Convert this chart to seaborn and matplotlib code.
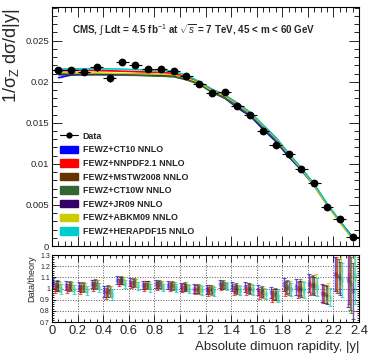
import matplotlib
matplotlib.use("Agg")
import matplotlib.pyplot as plt
from matplotlib.patches import Patch
from matplotlib.lines import Line2D
from matplotlib.ticker import MultipleLocator
import numpy as np
import pandas as pd
import seaborn as sns

sns.set_theme(style="ticks")
plt.rcParams['font.family'] = ['Liberation Sans', 'DejaVu Sans']
plt.rcParams['mathtext.fontset'] = 'custom'
plt.rcParams['mathtext.rm'] = 'Liberation Sans'
plt.rcParams['mathtext.it'] = 'Liberation Sans:italic'
plt.rcParams['mathtext.bf'] = 'Liberation Sans:bold'

# bin centres in |y|
y_centres = [0.05, 0.15, 0.25, 0.35, 0.45, 0.55, 0.65, 0.75, 0.85, 0.95, 1.05, 1.15,
             1.25, 1.35, 1.45, 1.55, 1.65, 1.75, 1.85, 1.95, 2.05, 2.15, 2.25, 2.35]

data_val = [0.02146, 0.02140, 0.02120, 0.02175, 0.02040, 0.02244, 0.02200, 0.02150,
            0.02160, 0.02130, 0.02065, 0.01976, 0.01862, 0.01874, 0.01707, 0.01601,
            0.01402, 0.01228, 0.01122, 0.00935, 0.00764, 0.00480, 0.00333, 0.00106]
data_err = [0.0003, 0.0003, 0.0004, 0.0004, 0.0004, 0.0003, 0.0003, 0.0003,
            0.0003, 0.0003, 0.0003, 0.0003, 0.0003, 0.0003, 0.0003, 0.0003,
            0.0003, 0.0003, 0.0003, 0.0002, 0.0002, 0.0002, 0.0002, 0.0001]

pdf_names = ['FEWZ+CT10 NNLO', 'FEWZ+NNPDF2.1 NNLO', 'FEWZ+MSTW2008 NNLO',
             'FEWZ+CT10W NNLO', 'FEWZ+JR09 NNLO', 'FEWZ+ABKM09 NNLO',
             'FEWZ+HERAPDF15 NNLO']
pdf_colors = ['#0000ff', '#ff0000', '#663300', '#336633', '#330066', '#cccc00', '#00cccc']

th_ct10 = [0.02050, 0.02085, 0.02090, 0.02090, 0.02090, 0.02088, 0.02085, 0.02080,
           0.02078, 0.02070, 0.02035, 0.01980, 0.01880, 0.01800, 0.01680, 0.01580,
           0.01420, 0.01270, 0.01085, 0.00920, 0.00730, 0.00500, 0.00295, 0.00098]
th_nnpdf = [0.02135, 0.02140, 0.02140, 0.02138, 0.02135, 0.02130, 0.02125, 0.02120,
            0.02115, 0.02105, 0.02060, 0.02000, 0.01910, 0.01840, 0.01740, 0.01625,
            0.01470, 0.01320, 0.01125, 0.00945, 0.00745, 0.00505, 0.00295, 0.00095]
th_mstw = [0.02100, 0.02100, 0.02100, 0.02100, 0.02098, 0.02095, 0.02092, 0.02088,
           0.02085, 0.02078, 0.02040, 0.01985, 0.01885, 0.01815, 0.01705, 0.01600,
           0.01450, 0.01295, 0.01110, 0.00935, 0.00740, 0.00505, 0.00300, 0.00100]
th_ct10w = [0.02085, 0.02088, 0.02088, 0.02088, 0.02086, 0.02083, 0.02080, 0.02075,
            0.02070, 0.02062, 0.02025, 0.01970, 0.01870, 0.01800, 0.01695, 0.01590,
            0.01440, 0.01285, 0.01100, 0.00925, 0.00735, 0.00505, 0.00300, 0.00103]
th_jr09 = [0.02095, 0.02098, 0.02098, 0.02098, 0.02097, 0.02095, 0.02093, 0.02090,
           0.02087, 0.02080, 0.02045, 0.01990, 0.01890, 0.01825, 0.01715, 0.01610,
           0.01455, 0.01300, 0.01115, 0.00940, 0.00745, 0.00510, 0.00305, 0.00108]
th_abkm = [0.02110, 0.02105, 0.02105, 0.02105, 0.02103, 0.02100, 0.02097, 0.02093,
           0.02090, 0.02083, 0.02045, 0.01990, 0.01890, 0.01825, 0.01720, 0.01610,
           0.01460, 0.01305, 0.01115, 0.00935, 0.00730, 0.00495, 0.00285, 0.00080]
th_hera = [0.02155, 0.02160, 0.02160, 0.02160, 0.02158, 0.02155, 0.02150, 0.02145,
           0.02140, 0.02128, 0.02080, 0.02005, 0.01905, 0.01840, 0.01735, 0.01625,
           0.01475, 0.01320, 0.01130, 0.00950, 0.00755, 0.00520, 0.00310, 0.00095]
theories = [th_ct10, th_nnpdf, th_mstw, th_ct10w, th_jr09, th_abkm, th_hera]

# uncertainty on the ratio (data + theory)
ratio_err = [0.045, 0.04, 0.04, 0.04, 0.05, 0.035, 0.035, 0.035, 0.035, 0.035, 0.035, 0.04,
             0.04, 0.035, 0.04, 0.045, 0.045, 0.05, 0.06, 0.07, 0.08, 0.08, 0.15, 0.25]

rows = []
for name, th in zip(pdf_names, theories):
    for x, v in zip(y_centres, th):
        rows.append({'y': x, 'xsec': v, 'pdf': name})
df = pd.DataFrame(rows)
palette = dict(zip(pdf_names, pdf_colors))

fig = plt.figure(figsize=(3.74, 3.63), dpi=100)
ax = fig.add_axes([0.139, 0.3223, 0.821, 0.6584])
axr = fig.add_axes([0.139, 0.1129, 0.821, 0.1846])

# theory bands + lines
for name, th, c in zip(pdf_names, theories, pdf_colors):
    th = np.array(th)
    ax.fill_between(y_centres, th * 0.997, th * 1.003, color=c, lw=0, alpha=0.8)
sns.lineplot(data=df, x='y', y='xsec', hue='pdf', palette=palette, ax=ax,
             linewidth=1.0, legend=False)

ax.errorbar(y_centres, data_val, xerr=0.05, yerr=data_err, fmt='o', color='black',
            ms=4.6, elinewidth=0.8, capsize=0, zorder=10)

ax.set_xlim(0, 2.4)
ax.set_ylim(0, 0.0291)
ax.set_xlabel('')
ax.set_ylabel('1/σ$_\\mathregular{Z}$ dσ/d|y|', fontsize=13, loc='top')
ax.yaxis.set_label_coords(-0.098, 0.995)
ax.yaxis.set_major_locator(MultipleLocator(0.005))
ax.yaxis.set_minor_locator(MultipleLocator(0.001))
ax.xaxis.set_major_locator(MultipleLocator(0.2))
ax.xaxis.set_minor_locator(MultipleLocator(0.05))
ax.set_yticks([0, 0.005, 0.01, 0.015, 0.02, 0.025])
ax.set_yticklabels(['0', '0.005', '0.01', '0.015', '0.02', '0.025'])
ax.tick_params(axis='both', which='both', direction='in', top=True, right=True,
               labelsize=6.8, width=0.7, pad=2)
ax.tick_params(which='major', length=7)
ax.tick_params(which='minor', length=3.5)
ax.tick_params(axis='x', labelbottom=False)

ax.text(0.064, 0.904, 'CMS, $\\int$ Ldt = 4.5 fb$^{-1}$ at $\\sqrt{s}$ = 7 TeV, 45 < m < 60 GeV',
        transform=ax.transAxes, fontsize=7.1, fontweight='bold', va='center')

handles = [Line2D([], [], color='black', marker='o', ms=3.5, lw=0.8)]
handles += [Patch(facecolor=c, edgecolor=c) for c in pdf_colors]
ax.legend(handles, ['Data'] + pdf_names, loc='upper left', bbox_to_anchor=(0.025, 0.478),
          frameon=False, prop={'size': 6.4, 'weight': 'bold'}, handlelength=2.1,
          handleheight=0.9, handletextpad=0.5, labelspacing=0.52, borderpad=0,
          borderaxespad=0)

# ratio panel
offsets = [-0.040, -0.030, -0.020, -0.010, 0.000, 0.010, 0.020]
dv = np.array(data_val)
for th, c, off in zip(theories, pdf_colors, offsets):
    ratio = dv / np.array(th)
    axr.errorbar(np.array(y_centres) + off, ratio, yerr=ratio_err, fmt='none',
                 ecolor=c, elinewidth=1.0, capsize=1.3, capthick=0.8, alpha=0.65)
    axr.errorbar(np.array(y_centres) + off, ratio, yerr=0.02, fmt='none',
                 ecolor=c, elinewidth=2.5, alpha=0.35)

axr.set_xlim(0, 2.4)
axr.set_ylim(0.7, 1.3)
axr.xaxis.set_major_locator(MultipleLocator(0.2))
axr.xaxis.set_minor_locator(MultipleLocator(0.05))
axr.yaxis.set_major_locator(MultipleLocator(0.1))
axr.yaxis.set_minor_locator(MultipleLocator(0.02))
axr.set_xticks([0, 0.2, 0.4, 0.6, 0.8, 1.0, 1.2, 1.4, 1.6, 1.8, 2.0, 2.2, 2.4])
axr.set_xticklabels(['0', '0.2', '0.4', '0.6', '0.8', '1', '1.2', '1.4', '1.6',
                     '1.8', '2', '2.2', '2.4'])
axr.set_yticks([0.7, 0.8, 0.9, 1.0, 1.1, 1.2, 1.3])
axr.set_yticklabels(['0.7', '0.8', '0.9', '1', '1.1', '1.2', '1.3'])
axr.grid(True, which='major', color='#555555', linestyle=':', linewidth=0.7)
axr.tick_params(axis='both', which='both', direction='in', top=True, right=True,
                width=0.7)
axr.tick_params(axis='x', which='major', length=5, labelsize=9.4, pad=2)
axr.tick_params(axis='x', which='minor', length=2.5)
axr.tick_params(axis='y', which='major', length=3, labelsize=5, pad=1.5)
axr.tick_params(axis='y', which='minor', length=1.5)
axr.set_ylabel('Data/theory', fontsize=6.5, loc='top', labelpad=3)
axr.set_xlabel('Absolute dimuon rapidity, |y|', fontsize=9.5, loc='right', labelpad=3)

for a in (ax, axr):
    for s in a.spines.values():
        s.set_linewidth(0.8)
        s.set_color('black')

fig.savefig('out.png', dpi=100)
